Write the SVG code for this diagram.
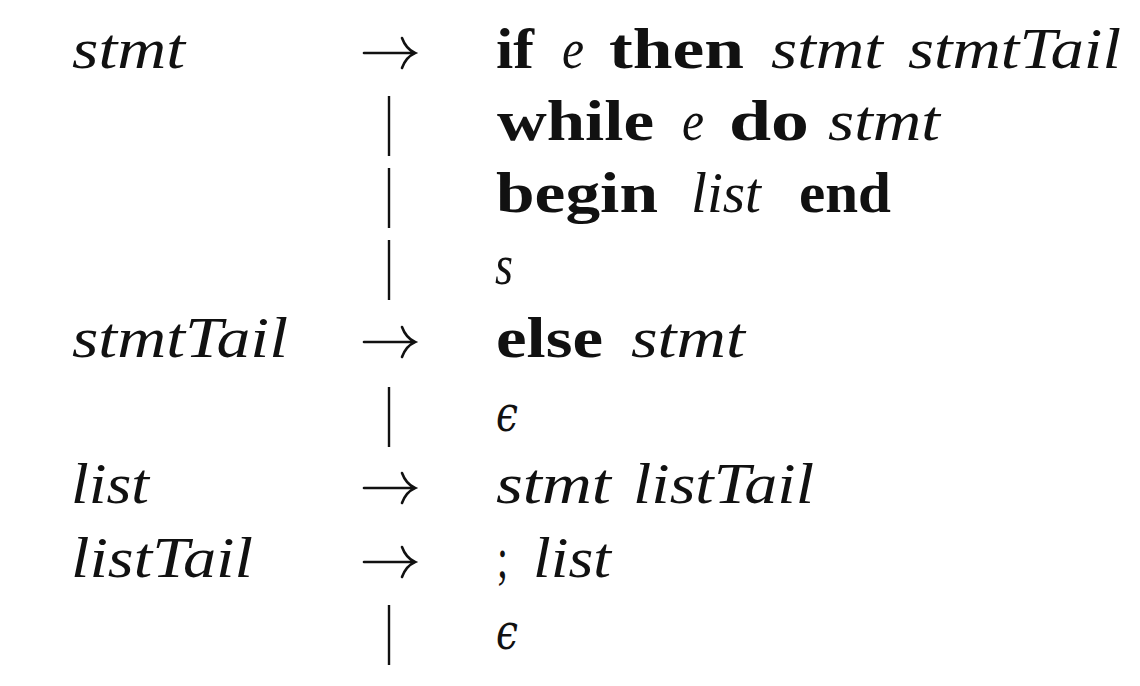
<svg xmlns="http://www.w3.org/2000/svg" width="1140" height="686" viewBox="0 0 1140 686">
<style>
text{font-family:"Liberation Serif","Times New Roman",serif;font-size:58px;fill:#111}
.i{font-style:italic}
.b{font-weight:bold}
.eps{font-family:"DejaVu Serif","Liberation Serif",serif;font-style:italic;font-size:50px}
.bar{stroke:#111;stroke-width:2.4;fill:none}
.arr{stroke:#111;stroke-width:2.6;fill:none;stroke-linecap:round}
</style>
<defs>
<g id="to">
<path class="arr" d="M364 0 H414"/>
<path class="arr" d="M402 -15 Q406 -4 415 0 Q406 4 402 15"/>
</g>
</defs>
<rect width="1140" height="686" fill="#fff"/>
<g id="symbols">
<use href="#to" y="53"/>
<use href="#to" y="342"/>
<use href="#to" y="488"/>
<use href="#to" y="562"/>
<line class="bar" x1="389" y1="96" x2="389" y2="156"/>
<line class="bar" x1="389" y1="168" x2="389" y2="228"/>
<line class="bar" x1="389" y1="240" x2="389" y2="300"/>
<line class="bar" x1="389" y1="387" x2="389" y2="447"/>
<line class="bar" x1="389" y1="605" x2="389" y2="665"/>
</g>
<g id="row1">
<text class="i" x="72" y="68" textLength="113" lengthAdjust="spacingAndGlyphs">stmt</text>
<text class="b" x="496" y="68" textLength="38" lengthAdjust="spacingAndGlyphs">if</text>
<text class="i" x="562" y="68" textLength="22" lengthAdjust="spacingAndGlyphs">e</text>
<text class="b" x="609" y="68" textLength="135" lengthAdjust="spacingAndGlyphs">then</text>
<text class="i" x="771" y="68" textLength="112" lengthAdjust="spacingAndGlyphs">stmt</text>
<text class="i" x="908" y="68" textLength="213" lengthAdjust="spacingAndGlyphs">stmtTail</text>
</g>
<g id="row2">
<text class="b" x="497" y="140" textLength="157" lengthAdjust="spacingAndGlyphs">while</text>
<text class="i" x="682" y="140" textLength="22" lengthAdjust="spacingAndGlyphs">e</text>
<text class="b" x="729" y="140" textLength="80" lengthAdjust="spacingAndGlyphs">do</text>
<text class="i" x="828" y="140" textLength="112" lengthAdjust="spacingAndGlyphs">stmt</text>
</g>
<g id="row3">
<text class="b" x="496" y="212" textLength="162" lengthAdjust="spacingAndGlyphs">begin</text>
<text class="i" x="691" y="212" textLength="70" lengthAdjust="spacingAndGlyphs">list</text>
<text class="b" x="799" y="212" textLength="92" lengthAdjust="spacingAndGlyphs">end</text>
</g>
<g id="row4">
<text class="i" x="495" y="284" textLength="18" lengthAdjust="spacingAndGlyphs">s</text>
</g>
<g id="row5">
<text class="i" x="72" y="357" textLength="216" lengthAdjust="spacingAndGlyphs">stmtTail</text>
<text class="b" x="496" y="357" textLength="107" lengthAdjust="spacingAndGlyphs">else</text>
<text class="i" x="631" y="357" textLength="114" lengthAdjust="spacingAndGlyphs">stmt</text>
</g>
<g id="row6">
<text class="eps" x="496" y="431" textLength="22" lengthAdjust="spacingAndGlyphs">ϵ</text>
</g>
<g id="row7">
<text class="i" x="71" y="503" textLength="78" lengthAdjust="spacingAndGlyphs">list</text>
<text class="i" x="496" y="503" textLength="115" lengthAdjust="spacingAndGlyphs">stmt</text>
<text class="i" x="633" y="503" textLength="181" lengthAdjust="spacingAndGlyphs">listTail</text>
</g>
<g id="row8">
<text class="i" x="71" y="577" textLength="182" lengthAdjust="spacingAndGlyphs">listTail</text>
<text x="497" y="577" textLength="11" lengthAdjust="spacingAndGlyphs">;</text>
<text class="i" x="533" y="577" textLength="78" lengthAdjust="spacingAndGlyphs">list</text>
</g>
<g id="row9">
<text class="eps" x="496" y="649" textLength="22" lengthAdjust="spacingAndGlyphs">ϵ</text>
</g>
</svg>
